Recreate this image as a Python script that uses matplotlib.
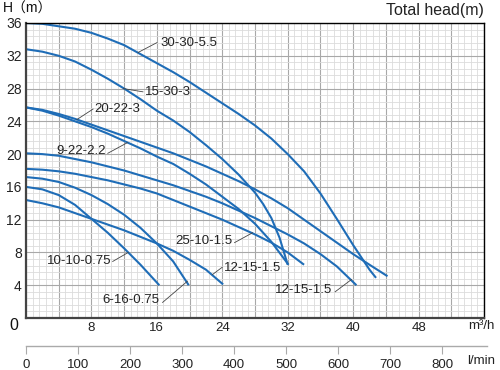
import matplotlib
matplotlib.use("Agg")
import matplotlib.pyplot as plt
from matplotlib.ticker import MultipleLocator

plt.rcParams['font.family'] = ['Liberation Sans', 'Noto Sans CJK SC', 'DejaVu Sans']

# pump curves: flow in m3/h, head in m
q_30_30 = [0, 2, 4, 6, 8, 10, 12, 14, 16, 18, 20, 22, 24, 26, 28, 30, 32, 34, 36, 38, 40, 42, 42.8]
h_30_30 = [36, 35.9, 35.6, 35.3, 34.8, 34.1, 33.3, 32.2, 31.1, 30.0, 28.8, 27.5, 26.2, 24.9, 23.5,
           21.9, 20.0, 17.9, 15.2, 12.1, 8.9, 5.9, 4.9]

q_15_30 = [0, 2, 4, 6, 8, 10, 12, 14, 16, 18, 20, 22, 24, 26, 28, 29, 30, 31, 32]
h_15_30 = [32.8, 32.5, 32.0, 31.3, 30.3, 29.2, 28.0, 26.7, 25.3, 24.1, 22.7, 21.1, 19.4, 17.5,
           15.3, 13.9, 12.2, 9.8, 6.5]

q_20_22 = [0, 2, 4, 6, 8, 10, 12, 14, 16, 18, 20, 22, 24, 26, 28, 30, 32, 34, 36, 38, 40, 42, 44.2]
h_20_22 = [25.7, 25.4, 24.9, 24.3, 23.6, 22.9, 22.2, 21.5, 20.8, 20.1, 19.3, 18.5, 17.6, 16.7,
           15.7, 14.6, 13.4, 12.0, 10.6, 9.2, 7.8, 6.5, 5.1]

q_9_22 = [0, 2, 4, 6, 8, 10, 12, 14, 16, 18, 20, 22, 24, 26, 28, 30, 32.1]
h_9_22 = [25.7, 25.3, 24.7, 24.0, 23.3, 22.5, 21.6, 20.7, 19.7, 18.8, 17.6, 16.3, 14.8, 13.3,
          11.5, 9.3, 6.5]

q_25_10 = [0, 2, 4, 6, 8, 10, 12, 14, 16, 18, 20, 22, 24, 26, 28, 30, 32, 34]
h_25_10 = [18.2, 18.1, 17.9, 17.6, 17.2, 16.8, 16.3, 15.8, 15.2, 14.4, 13.6, 12.8, 12.0, 11.1,
           10.2, 9.2, 8.0, 6.5]

q_12_15a = [0, 2, 4, 6, 8, 10, 12, 14, 16, 18, 20, 22, 24, 26, 28, 30, 32, 34, 36, 38, 40.4]
h_12_15a = [20.1, 20.0, 19.8, 19.4, 19.0, 18.5, 18.0, 17.4, 16.8, 16.2, 15.5, 14.8, 14.0, 13.1,
            12.2, 11.2, 10.2, 9.1, 7.8, 6.3, 4.0]

q_6_16 = [0, 2, 4, 6, 8, 10, 12, 14, 16, 18, 19.9]
h_6_16 = [17.2, 17.0, 16.6, 15.9, 15.0, 13.9, 12.6, 11.0, 9.1, 6.9, 4.0]

q_10_10 = [0, 2, 4, 6, 8, 10, 12, 14, 16.3]
h_10_10 = [16.0, 15.7, 15.0, 13.8, 12.1, 10.4, 8.5, 6.5, 4.0]

q_12_15b = [0, 2, 4, 6, 8, 10, 12, 14, 16, 18, 20, 22, 24.1]
h_12_15b = [14.4, 14.0, 13.5, 12.8, 12.1, 11.4, 10.7, 9.9, 9.1, 8.2, 7.1, 5.9, 4.1]

curves = [(q_30_30, h_30_30), (q_15_30, h_15_30), (q_20_22, h_20_22), (q_9_22, h_9_22),
          (q_25_10, h_25_10), (q_12_15a, h_12_15a), (q_6_16, h_6_16), (q_10_10, h_10_10),
          (q_12_15b, h_12_15b)]

# label text, point on curve, end of leader, text anchor, alignment
labels = [
    ("30-30-5.5", (13.7, 32.4), (16.0, 33.6), (16.4, 33.5), 'left'),
    ("15-30-3", (11.9, 28.0), (14.3, 27.6), (14.5, 27.6), 'left'),
    ("20-22-3", (6.2, 24.2), (8.2, 25.5), (8.4, 25.5), 'left'),
    ("9-22-2.2", (12.4, 21.4), (10.0, 20.1), (9.8, 20.4), 'right'),
    ("25-10-1.5", (27.7, 10.4), (25.5, 9.2), (25.2, 9.4), 'right'),
    ("12-15-1.5", (22.8, 5.3), (24.0, 6.2), (24.2, 6.1), 'left'),
    ("12-15-1.5", (39.8, 4.7), (37.8, 3.2), (37.4, 3.4), 'right'),
    ("10-10-0.75", (12.5, 8.0), (10.6, 6.9), (10.5, 7.0), 'right'),
    ("6-16-0.75", (19.75, 4.5), (16.7, 1.9), (16.3, 2.2), 'right'),
]

lmin_ticks = [0, 100, 200, 300, 400, 500, 600, 700, 800]

fig = plt.figure(figsize=(5, 3.7), dpi=100)
ax = fig.add_axes([26 / 500, 1 - 318 / 370, 458 / 500, 295 / 370])

ax.set_xlim(0, 56)
ax.set_ylim(0, 36)
ax.xaxis.set_minor_locator(MultipleLocator(0.8))
ax.yaxis.set_minor_locator(MultipleLocator(0.8))
ax.grid(which='minor', color='#dcdcdc', lw=0.6)
ax.grid(which='major', color='#a8a8a8', lw=0.8)
ax.set_axisbelow(True)

ax.set_xticks(range(0, 57, 4))
ax.set_xticklabels(['' if (v == 0 or v % 8 or v > 48) else str(v) for v in range(0, 57, 4)])
ax.set_yticks(range(0, 37, 4))
ax.set_yticklabels(['' if v == 0 else str(v) for v in range(0, 37, 4)])
ax.tick_params(which='both', length=0)
ax.tick_params(axis='x', labelsize=9.5, pad=3, colors='#222')
ax.tick_params(axis='y', labelsize=10, pad=3, colors='#222')

for side in ['top', 'right']:
    ax.spines[side].set_color('black')
    ax.spines[side].set_linewidth(1.0)
for side in ['left', 'bottom']:
    ax.spines[side].set_color('#444')
    ax.spines[side].set_linewidth(1.6)

for q, h in curves:
    ax.plot(q, h, color='#1f6db7', lw=1.5, solid_capstyle='butt', solid_joinstyle='round')

for txt, pt, end, pos, ha in labels:
    ax.plot([pt[0], end[0]], [pt[1], end[1]], color='#444', lw=0.6)
    ax.text(pos[0], pos[1], txt, ha=ha, va='center', fontsize=9.5, color='#222')

# second flow scale in l/min
ax2 = fig.add_axes([26 / 500, 1 - 346 / 370, 461 / 500, 0.0001])
ax2.set_xlim(0, 886)
ax2.set_yticks([])
for side in ['top', 'left', 'right']:
    ax2.spines[side].set_visible(False)
ax2.spines['bottom'].set_color('#aaa')
ax2.spines['bottom'].set_linewidth(1.0)
ax2.set_xticks(lmin_ticks)
ax2.tick_params(axis='x', direction='out', length=6, color='#aaa', labelsize=9.5,
                labelcolor='#222', pad=3)
ax2.patch.set_visible(False)

fig.text(14 / 500, 1 - 326 / 370, '0', fontsize=11.5, ha='center', va='center', color='#111')
fig.text(481 / 500, 1 - 326 / 370, 'm³/h', fontsize=9.5, ha='center', va='center', color='#222')
fig.text(481 / 500, 1 - 361 / 370, 'l/min', fontsize=9.5, ha='center', va='center', color='#222')
fig.text(3 / 500, 1 - 9 / 370, 'H（m）', fontsize=10, ha='left', va='center', color='#111')
fig.text(484 / 500, 1 - 10 / 370, 'Total head(m)', fontsize=11.5, ha='right', va='center', color='#222')

fig.savefig('out.png', dpi=100)
